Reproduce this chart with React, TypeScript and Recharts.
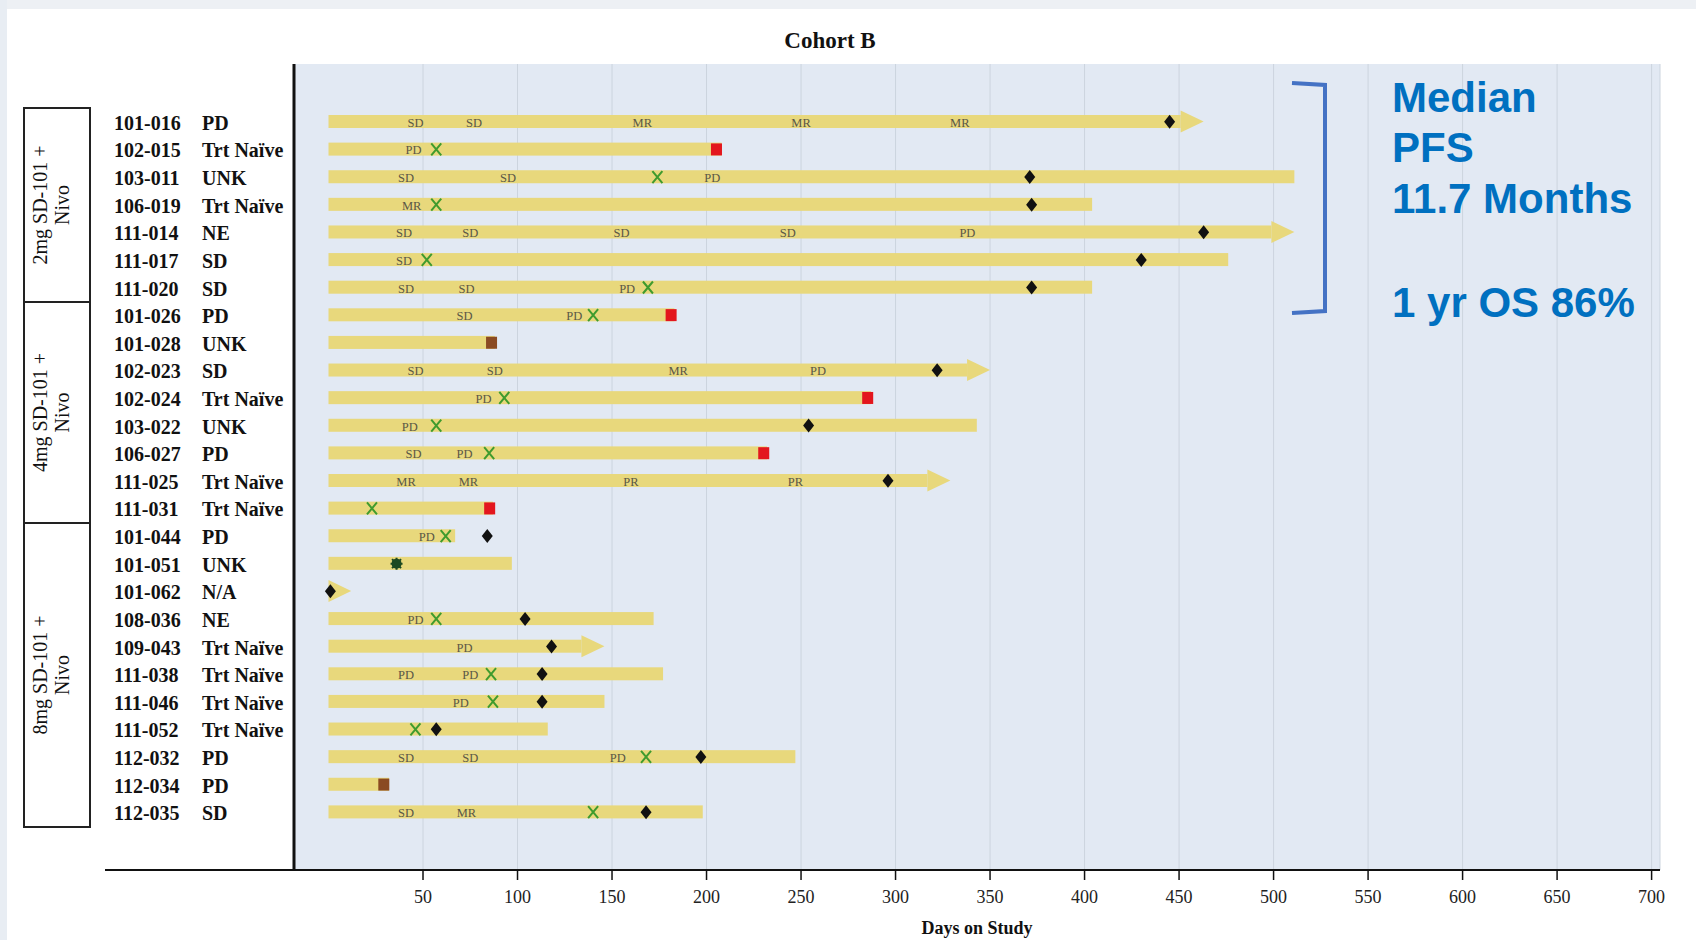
import { ComposedChart, Bar, Scatter, XAxis, YAxis, CartesianGrid } from 'recharts';

// patients, top to bottom
const patients = [
  '101-016', '102-015', '103-011', '106-019', '111-014', '111-017', '111-020',
  '101-026', '101-028', '102-023', '102-024', '103-022', '106-027', '111-025', '111-031',
  '101-044', '101-051', '101-062', '108-036', '109-043', '111-038', '111-046', '111-052',
  '112-032', '112-034', '112-035',
];
const baseline = [
  'PD', 'Trt Naïve', 'UNK', 'Trt Naïve', 'NE', 'SD', 'SD',
  'PD', 'UNK', 'SD', 'Trt Naïve', 'UNK', 'PD', 'Trt Naïve', 'Trt Naïve',
  'PD', 'UNK', 'N/A', 'NE', 'Trt Naïve', 'Trt Naïve', 'Trt Naïve', 'Trt Naïve',
  'PD', 'PD', 'SD',
];
const daysOnStudy = [
  463, 208, 511, 404, 511, 476, 404,
  183, 88, 350, 287, 343, 232, 329, 87,
  67, 97, 12, 172, 146, 177, 146, 116,
  247, 32, 198,
];
const ongoing = ['101-016', '111-014', '102-023', '111-025', '101-062', '109-043'];

// [patient, day, response]
const responses: [string, number, string][] = [
  ['101-016', 46, 'SD'], ['101-016', 77, 'SD'], ['101-016', 166, 'MR'], ['101-016', 250, 'MR'], ['101-016', 334, 'MR'],
  ['102-015', 45, 'PD'],
  ['103-011', 41, 'SD'], ['103-011', 95, 'SD'], ['103-011', 203, 'PD'],
  ['106-019', 44, 'MR'],
  ['111-014', 40, 'SD'], ['111-014', 75, 'SD'], ['111-014', 155, 'SD'], ['111-014', 243, 'SD'], ['111-014', 338, 'PD'],
  ['111-017', 40, 'SD'],
  ['111-020', 41, 'SD'], ['111-020', 73, 'SD'], ['111-020', 158, 'PD'],
  ['101-026', 72, 'SD'], ['101-026', 130, 'PD'],
  ['102-023', 46, 'SD'], ['102-023', 88, 'SD'], ['102-023', 185, 'MR'], ['102-023', 259, 'PD'],
  ['102-024', 82, 'PD'],
  ['103-022', 43, 'PD'],
  ['106-027', 45, 'SD'], ['106-027', 72, 'PD'],
  ['111-025', 41, 'MR'], ['111-025', 74, 'MR'], ['111-025', 160, 'PR'], ['111-025', 247, 'PR'],
  ['101-044', 52, 'PD'],
  ['108-036', 46, 'PD'],
  ['109-043', 72, 'PD'],
  ['111-038', 41, 'PD'], ['111-038', 75, 'PD'],
  ['111-046', 70, 'PD'],
  ['112-032', 41, 'SD'], ['112-032', 75, 'SD'], ['112-032', 153, 'PD'],
  ['112-035', 41, 'SD'], ['112-035', 73, 'MR'],
];

// [patient, day]
const crossMarks: [string, number][] = [
  ['102-015', 57], ['103-011', 174], ['106-019', 57], ['111-017', 52], ['111-020', 169],
  ['101-026', 140], ['102-024', 93], ['103-022', 57], ['106-027', 85], ['111-031', 23],
  ['101-044', 62], ['108-036', 57], ['111-038', 86], ['111-046', 87], ['111-052', 46],
  ['112-032', 168], ['112-035', 140],
];
const diamonds: [string, number][] = [
  ['101-016', 445], ['103-011', 371], ['106-019', 372], ['111-014', 463], ['111-017', 430],
  ['111-020', 372], ['102-023', 322], ['103-022', 254], ['111-025', 296], ['101-044', 84],
  ['101-062', 1], ['108-036', 104], ['109-043', 118], ['111-038', 113], ['111-046', 113],
  ['111-052', 57], ['112-032', 197], ['112-035', 168],
];
const redSquares: [string, number][] = [
  ['102-015', 205], ['101-026', 181], ['102-024', 285], ['106-027', 230], ['111-031', 85],
];
const brownSquares: [string, number][] = [['101-028', 86], ['112-034', 29]];
const greenStars: [string, number][] = [['101-051', 36]];

const dayTicks = [50, 100, 150, 200, 250, 300, 350, 400, 450, 500, 550, 600, 650, 700];

const BAR_COLOR = '#e8d87c';
const SERIF = '"Liberation Serif", "Times New Roman", serif';

const rows = patients.map((id, i) => ({ id, end: daysOnStudy[i], ongoing: ongoing.includes(id) }));
const toPoints = (list: [string, number][]) => list.map(([id, day]) => ({ id, day }));

const SwimBar = (props: any) => {
  const { x, y, width, height, payload } = props;
  const cy = y + height / 2;
  const h = 13;
  if (!payload.ongoing) {
    return <rect x={x} y={cy - h / 2} width={width} height={h} fill={BAR_COLOR} />;
  }
  const head = Math.min(23, width);
  const body = width - head;
  return (
    <g>
      {body > 0 && <rect x={x} y={cy - h / 2} width={body} height={h} fill={BAR_COLOR} />}
      <polygon
        points={`${x + body},${cy - 11} ${x + width},${cy} ${x + body},${cy + 11}`}
        fill={BAR_COLOR}
      />
    </g>
  );
};

const ResponseLabel = (props: any) => (
  <text
    x={props.cx}
    y={props.cy + 1}
    textAnchor="middle"
    dominantBaseline="central"
    fontSize={12.5}
    fontFamily={SERIF}
    fill="#5a5746"
  >
    {props.payload.label}
  </text>
);

const Cross = (props: any) => {
  const { cx, cy } = props;
  return (
    <path
      d={`M${cx - 5},${cy - 6}L${cx + 5},${cy + 6}M${cx + 5},${cy - 6}L${cx - 5},${cy + 6}`}
      stroke="#3f9b2e"
      strokeWidth={2}
      fill="none"
    />
  );
};

const Diamond = (props: any) => {
  const { cx, cy } = props;
  return <polygon points={`${cx},${cy - 7} ${cx + 5.5},${cy} ${cx},${cy + 7} ${cx - 5.5},${cy}`} fill="#111" />;
};

const square = (color: string) => (props: any) => (
  <rect x={props.cx - 5} y={props.cy - 6} width={11} height={12} fill={color} />
);

const Star = (props: any) => {
  const { cx, cy } = props;
  return (
    <g>
      <circle cx={cx} cy={cy} r={5} fill="#1d4a22" />
      <path
        d={`M${cx - 6},${cy}L${cx + 6},${cy}M${cx},${cy - 6}L${cx},${cy + 6}M${cx - 4.5},${cy - 4.5}L${cx + 4.5},${cy + 4.5}M${cx + 4.5},${cy - 4.5}L${cx - 4.5},${cy + 4.5}`}
        stroke="#1d4a22"
        strokeWidth={2}
      />
    </g>
  );
};

const PatientTick = (props: any) => {
  const { y, payload } = props;
  const status = baseline[patients.indexOf(payload.value)];
  return (
    <g fontFamily={SERIF} fontSize={20} fontWeight="bold" fill="#111">
      <text x={114} y={y + 1} dominantBaseline="central">{payload.value}</text>
      <text x={202} y={y + 1} dominantBaseline="central">{status}</text>
    </g>
  );
};

const groups = [
  { label: '2mg SD-101 +', top: 108, bottom: 302 },
  { label: '4mg SD-101 +', top: 302, bottom: 523 },
  { label: '8mg SD-101 +', top: 523, bottom: 827 },
];

export default function App() {
  return (
    <div style={{ position: 'absolute', left: 0, top: 0, width: 1696, height: 940, background: '#fff', overflow: 'hidden' }}>
      <div style={{ position: 'absolute', left: 0, top: 0, width: 1696, height: 9, background: '#edf0f4' }} />
      <div style={{ position: 'absolute', left: 0, top: 0, width: 7, height: 940, background: '#e8edf3' }} />
      <div style={{ position: 'absolute', left: 0, top: 0 }}>
        <ComposedChart
          width={1696}
          height={940}
          data={rows}
          layout="vertical"
          margin={{ top: 64, right: 36, bottom: 0, left: 104 }}
        >
          <CartesianGrid horizontal={false} fill="#e2e9f3" fillOpacity={1} stroke="#ccd4de" />
          <XAxis
            type="number"
            domain={[0, 700]}
            ticks={dayTicks}
            padding={{ left: 34.5, right: 8.4 }}
            height={70}
            tickSize={10}
            tickMargin={10}
            axisLine={{ stroke: '#111', strokeWidth: 2 }}
            tickLine={{ stroke: '#111', strokeWidth: 1.5 }}
            tick={{ fontSize: 18, fontFamily: SERIF, fill: '#222' }}
            label={{
              value: 'Days on Study',
              position: 'insideBottom',
              offset: 6,
              style: { fontSize: 18, fontFamily: SERIF, fontWeight: 'bold', fill: '#111' },
            }}
          />
          <YAxis
            type="category"
            dataKey="id"
            width={190}
            interval={0}
            allowDuplicatedCategory={false}
            padding={{ top: 44, bottom: 44 }}
            tickLine={false}
            axisLine={{ stroke: '#111', strokeWidth: 3 }}
            tick={<PatientTick />}
          />
          <Bar dataKey="end" barSize={13} shape={<SwimBar />} isAnimationActive={false} />
          <Scatter
            data={responses.map(([id, day, label]) => ({ id, day, label }))}
            dataKey="day"
            shape={<ResponseLabel />}
            isAnimationActive={false}
          />
          <Scatter data={toPoints(crossMarks)} dataKey="day" shape={<Cross />} isAnimationActive={false} />
          <Scatter data={toPoints(redSquares)} dataKey="day" shape={square('#e3161d')} isAnimationActive={false} />
          <Scatter data={toPoints(brownSquares)} dataKey="day" shape={square('#8a4a22')} isAnimationActive={false} />
          <Scatter data={toPoints(greenStars)} dataKey="day" shape={<Star />} isAnimationActive={false} />
          <Scatter data={toPoints(diamonds)} dataKey="day" shape={<Diamond />} isAnimationActive={false} />
        </ComposedChart>
      </div>
      <svg
        width={1696}
        height={940}
        style={{ position: 'absolute', left: 0, top: 0, pointerEvents: 'none' }}
      >
        <text x={830} y={48} textAnchor="middle" fontFamily={SERIF} fontWeight="bold" fontSize={23} fill="#111">
          Cohort B
        </text>
        <line x1={105} y1={870} x2={294} y2={870} stroke="#111" strokeWidth={2} />
        {groups.map(g => (
          <g key={g.label}>
            <rect x={24} y={g.top} width={66} height={g.bottom - g.top} fill="none" stroke="#222" strokeWidth={2} />
            <text
              transform={`translate(57,${(g.top + g.bottom) / 2}) rotate(-90)`}
              textAnchor="middle"
              fontFamily={SERIF}
              fontSize={20}
              fill="#111"
            >
              <tspan x={0} y={-10}>{g.label}</tspan>
              <tspan x={0} y={12}>Nivo</tspan>
            </text>
          </g>
        ))}
        <path d="M1292,83 L1325,85 L1325,311 L1292,313" fill="none" stroke="#4472c4" strokeWidth={4} />
        <g fontFamily='"Liberation Sans", Arial, sans-serif' fontWeight="bold" fontSize={42} fill="#0070c0">
          <text x={1392} y={112}>Median</text>
          <text x={1392} y={162}>PFS</text>
          <text x={1392} y={213}>11.7 Months</text>
          <text x={1392} y={317}>1 yr OS 86%</text>
        </g>
      </svg>
    </div>
  );
}
